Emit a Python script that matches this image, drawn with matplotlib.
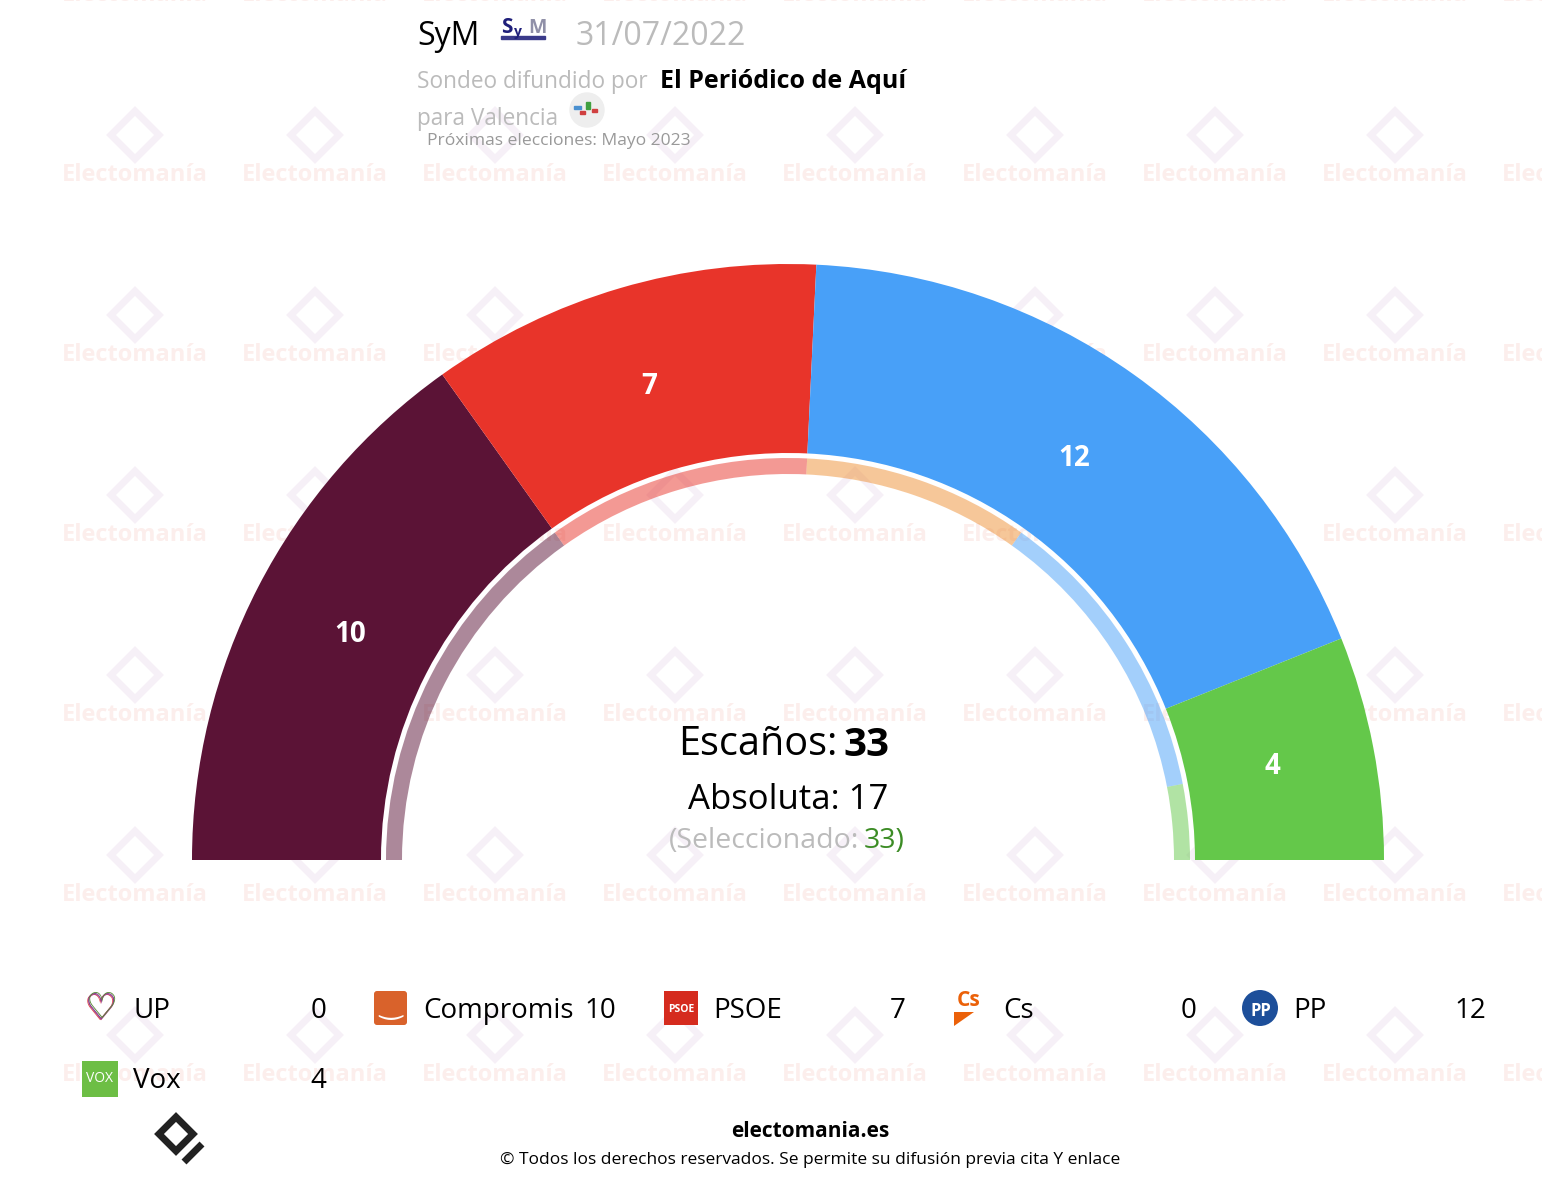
import matplotlib
matplotlib.use("Agg")
import matplotlib.pyplot as plt
from matplotlib.patches import Wedge, Polygon, FancyBboxPatch, Circle, Rectangle
import numpy as np

plt.rcParams['font.family'] = ['Open Sans', 'DejaVu Sans']

# ---------------- data ----------------
parties = ['UP', 'Compromis', 'PSOE', 'Cs', 'PP', 'Vox']
seats = [0, 10, 7, 0, 12, 4]
prev_seats = [0, 10, 7, 6, 8, 2]
colors = ['#7A3A8A', '#5B1336', '#E8342A', '#EE9035', '#48A0F8', '#64C84A']
total_seats = 33
majority = 17
selected = 33
pollster = 'SyM'
date_txt = '31/07/2022'
media = 'El Periódico de Aquí'
region = 'para Valencia'
next_elec = 'Próximas elecciones: Mayo 2023'

W, H = 1542, 1178
fig = plt.figure(figsize=(W / 100, H / 100), dpi=100)
ax = fig.add_axes([0, 0, 1, 1])
ax.set_xlim(0, W)
ax.set_ylim(H, 0)
ax.axis('off')

# ---------------- watermark ----------------
wm_xs = np.arange(135, W + 100, 180)
wm_rows = [-5, 175, 355, 535, 715, 895, 1075]
for yy in wm_rows:
    for xx in wm_xs:
        ax.text(xx, yy, 'Electomanía', ha='center', va='center', fontsize=17,
                fontweight='bold', color='#FCEEEC', zorder=0)
        ly = yy - 40
        d = 24
        ax.add_patch(Polygon([[xx, ly - d], [xx + d, ly], [xx, ly + d], [xx - d, ly]],
                             closed=True, fill=False, ec='#F6F0F7', lw=5, zorder=0))

# ---------------- hemicycle ----------------
cx, cy = 788, 860
R_out, R_in = 596, 407
r2_out, r2_in = 402, 386

def draw_ring(values, r_outer, width, alpha, labels=False):
    tot = sum(values)
    start = 180.0
    for v, c in zip(values, colors):
        if v == 0:
            continue
        span = 180.0 * v / tot
        ax.add_patch(Wedge((cx, cy), r_outer, start, start + span, width=width,
                           facecolor=c, edgecolor='none', alpha=alpha, zorder=2))
        if labels:
            mid = np.deg2rad(start + span / 2)
            rl = 493
            ax.text(cx + rl * np.cos(mid), cy + rl * np.sin(mid), str(v),
                    ha='center', va='center', color='white', fontsize=20,
                    fontweight='bold', zorder=3)
        start += span

draw_ring(seats, R_out, R_out - R_in, 1.0, labels=True)
draw_ring(prev_seats, r2_out, r2_out - r2_in, 0.5)

# ---------------- centre text ----------------
ax.text(837, 745, 'Escaños:', ha='right', va='center', fontsize=28.5, color='black', zorder=4)
ax.text(843, 745, str(total_seats), ha='left', va='center', fontsize=29,
        fontweight='bold', color='black', zorder=4)
ax.text(788, 800, f'Absoluta: {majority}', ha='center', va='center', fontsize=25,
        color='black', zorder=4)
ax.text(859, 841, '(Seleccionado:', ha='right', va='center', fontsize=20.5,
        color='#BBBBBB', zorder=4)
ax.text(864, 841, f'{selected})', ha='left', va='center', fontsize=20.5,
        color='#3C8C25', zorder=4)

# ---------------- header ----------------
ax.text(417, 45, pollster, ha='left', va='baseline', fontsize=23, color='black')
ax.text(501, 33, 'S', ha='left', va='baseline', fontsize=15, fontweight='bold', color='#1F1F7A')
ax.text(514, 36, 'y', ha='left', va='baseline', fontsize=10, fontweight='bold', color='#1F1F7A')
ax.text(528, 33, 'M', ha='left', va='baseline', fontsize=14, fontweight='bold', color='#9090A8')
ax.add_patch(Rectangle((501, 36), 44, 3, color='#3A3A8A'))
ax.text(576, 45, date_txt, ha='left', va='baseline', fontsize=23, color='#BBBBBB')
ax.text(417, 88, 'Sondeo difundido por', ha='left', va='baseline', fontsize=16.3, color='#BBBBBB')
ax.text(660, 88, media, ha='left', va='baseline', fontsize=18, fontweight='bold', color='black')
ax.text(417, 125, region, ha='left', va='baseline', fontsize=16.3, color='#BBBBBB')
ax.add_patch(Circle((587, 110), 17, color='#EEEEEE', zorder=1))
ax.add_patch(Rectangle((574, 106), 7, 3, color='#4A90D0', zorder=2))
ax.add_patch(Rectangle((580, 111), 5, 3, color='#D04040', zorder=2))
ax.add_patch(Rectangle((586, 102), 4, 7, color='#40A040', zorder=2))
ax.add_patch(Rectangle((592, 109), 5, 3, color='#D04040', zorder=2))
ax.text(427, 145, next_elec, ha='left', va='baseline', fontsize=12.6, color='#999999')

# ---------------- legend ----------------
col_x = [83, 373, 663, 953, 1243]
row_y = [1018, 1088]
for i, (p, s, c) in enumerate(zip(parties, seats, colors)):
    col = i % 5
    row = i // 5
    x0 = col_x[col]
    yb = row_y[row]
    ym = yb - 10
    # icon
    if p == 'UP':
        for k, cc in enumerate(['#E34A4A', '#B0458A', '#7A3A8A', '#5A8A3A']):
            ax.text(x0 + 17 + k * 0.6, ym + 2 - k * 0.6, '♡', ha='center', va='center',
                    fontsize=26, color=cc, family='DejaVu Sans', zorder=5)
    elif p == 'Compromis':
        ax.add_patch(FancyBboxPatch((x0 + 1, ym - 17), 33, 34,
                                    boxstyle='round,pad=0,rounding_size=3',
                                    fc='#D9622B', ec='none', zorder=5))
        ax.text(x0 + 17, ym - 2, '‿', ha='center', va='center', fontsize=20,
                color='white', family='DejaVu Sans', zorder=6)
    elif p == 'PSOE':
        ax.add_patch(Rectangle((x0 + 1, ym - 17), 34, 34, fc='#D52B1E', ec='none', zorder=5))
        ax.text(x0 + 18, ym + 1, 'PSOE', ha='center', va='center', fontsize=7.5,
                fontweight='bold', color='white', zorder=6)
    elif p == 'Cs':
        ax.text(x0 + 16, ym - 8, 'Cs', ha='center', va='center', fontsize=15,
                fontweight='bold', color='#EB6109', zorder=5)
        ax.add_patch(Polygon([[x0 + 1, ym + 4], [x0 + 21, ym + 4], [x0 + 1, ym + 18]],
                             closed=True, fc='#EB6109', ec='none', zorder=5))
    elif p == 'PP':
        ax.add_patch(Circle((x0 + 17, ym), 18, fc='#1D4F9A', ec='none', zorder=5))
        ax.text(x0 + 18, ym + 3, 'PP', ha='center', va='center', fontsize=12,
                fontweight='bold', color='white', zorder=6)
    elif p == 'Vox':
        ax.add_patch(Rectangle((x0 - 1, ym - 17), 36, 36, fc='#6DBE45', ec='none', zorder=5))
        ax.text(x0 + 17, ym + 1, 'VOX', ha='center', va='center', fontsize=10,
                color='white', zorder=6)
    ax.text(x0 + 50, yb, p, ha='left', va='baseline', fontsize=20, color='black', zorder=5)
    ax.text(x0 + 243, yb, str(s), ha='right', va='baseline', fontsize=20, color='black', zorder=5)

# ---------------- footer ----------------
ax.text(810, 1137, 'electomania.es', ha='center', va='baseline', fontsize=15,
        fontweight='bold', color='black')
ax.text(810, 1164, '© Todos los derechos reservados. Se permite su difusión previa cita Y enlace',
        ha='center', va='baseline', fontsize=12.5, color='black')
lx, ly = 180, 1140
d = 17
ax.add_patch(Polygon([[lx - 4, ly - d - 6], [lx + d - 4, ly - 6], [lx - 4, ly + d - 6], [lx - d - 4, ly - 6]],
                     closed=True, fill=False, ec='#222222', lw=5))
ax.add_patch(Polygon([[lx + 4, ly + 22], [lx + 22, ly + 4]], closed=False, fill=False,
                     ec='#222222', lw=5))

fig.savefig('out.png', dpi=100, facecolor='white')
